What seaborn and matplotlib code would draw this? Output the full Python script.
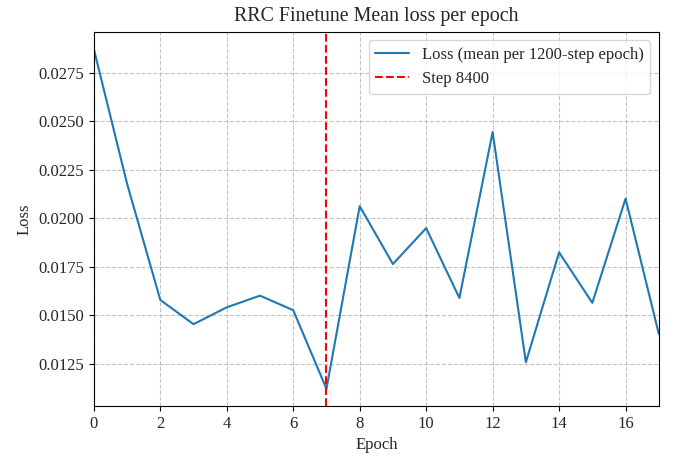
import matplotlib
matplotlib.use("Agg")
import matplotlib.pyplot as plt
import seaborn as sns
import numpy as np
import pandas as pd

epochs = list(range(18))
loss = [0.02872, 0.02178, 0.01579, 0.01454, 0.01541, 0.01601, 0.01526, 0.01121,
        0.02062, 0.01764, 0.01949, 0.01589, 0.02444, 0.01258, 0.01824, 0.01564,
        0.02101, 0.01404]
marker_step = 7
title = "RRC Finetune Mean loss per epoch"
line_label = "Loss (mean per 1200-step epoch)"
vline_label = "Step 8400"

sns.set_style("ticks")
plt.rcParams['font.family'] = ['Liberation Serif', 'DejaVu Serif']
plt.rcParams['font.size'] = 12
plt.rcParams['mathtext.fontset'] = 'stix'

df = pd.DataFrame({"Epoch": epochs, "Loss": loss})

fig = plt.figure(figsize=(6.75, 4.57), dpi=100)
ax = fig.add_axes([0.139, 0.112, 0.837, 0.818])
sns.lineplot(data=df, x="Epoch", y="Loss", ax=ax, color="#1f77b4", lw=1.5, label=line_label)
ax.axvline(marker_step, color="red", ls="--", lw=1.5, label=vline_label)
ax.set_xlim(0, 17)
ax.grid(True, ls="--", color="#b0b0b0", lw=0.8, alpha=0.75)
ax.set_title(title, fontsize=14.4, pad=8)
ax.set_xlabel("Epoch", fontsize=12)
ax.set_ylabel("Loss", fontsize=12)
ax.tick_params(labelsize=12, length=3.5, width=0.8, color="black")
for s in ax.spines.values():
    s.set_color("black")
    s.set_linewidth(0.8)
ax.legend(loc="upper right", fontsize=12, frameon=True, edgecolor="#cccccc", framealpha=0.8)
fig.savefig("out.png", dpi=100)
